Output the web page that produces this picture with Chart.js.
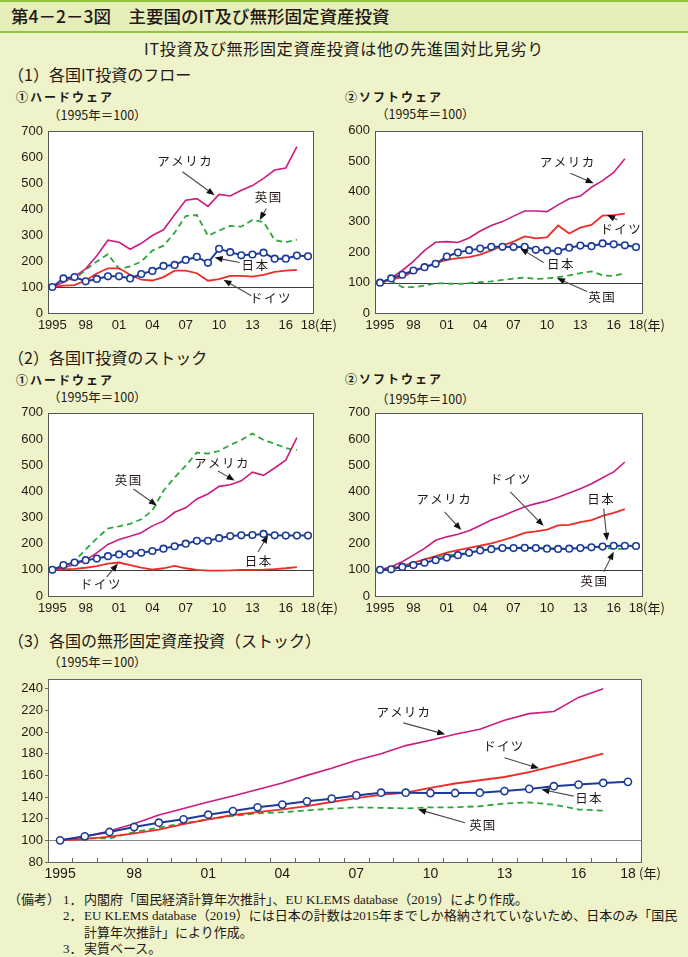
<!DOCTYPE html>
<html lang="ja">
<head>
<meta charset="utf-8">
<script src="https://cdn.jsdelivr.net/npm/chart.js@4.4.1/dist/chart.umd.min.js"></script>
<style>
html,body{margin:0;padding:0;}
body{width:688px;height:957px;background:#EEF3C9;position:relative;overflow:hidden;font-family:"Noto Sans CJK JP",sans-serif;color:#231815;}
#head{position:absolute;left:0;top:0;width:688px;height:33px;background:#E5EDB8;border-top:2px solid #8DC540;border-bottom:2px solid #8DC540;box-sizing:border-box;}
.t{position:absolute;white-space:nowrap;line-height:1;}
.sec{font-size:16px;}
.sub{font-size:12px;font-weight:bold;letter-spacing:2px;}
.unit{font-size:12.5px;}
.nen{font-size:13px;}
.foot{font-size:13px;font-family:"Liberation Serif","Noto Sans CJK JP",serif;}
.box{position:absolute;}
</style>
</head>
<body>
<div id="head"></div>
<div class="t" style="left:11px;top:7px;font-size:17.5px;font-weight:500;">第4－2－3図　主要国のIT及び無形固定資産投資</div>
<div class="t" style="left:0;width:688px;text-align:center;top:40px;font-size:16px;letter-spacing:0.7px;">IT投資及び無形固定資産投資は他の先進国対比見劣り</div>

<div class="t sec" style="left:8px;top:66px;">（1）各国IT投資のフロー</div>
<div class="t sub" style="left:16px;top:91px;">①ハードウェア</div>
<div class="t unit" style="left:48px;top:109px;">（1995年＝100）</div>
<div class="t sub" style="left:345px;top:91px;">②ソフトウェア</div>
<div class="t unit" style="left:376px;top:108px;">（1995年＝100）</div>

<div class="t sec" style="left:8px;top:349px;">（2）各国IT投資のストック</div>
<div class="t sub" style="left:16px;top:374px;">①ハードウェア</div>
<div class="t unit" style="left:48px;top:391px;">（1995年＝100）</div>
<div class="t sub" style="left:345px;top:373px;">②ソフトウェア</div>
<div class="t unit" style="left:376px;top:393px;">（1995年＝100）</div>

<div class="t sec" style="left:8px;top:632px;">（3）各国の無形固定資産投資（ストック）</div>
<div class="t unit" style="left:48px;top:656px;">（1995年＝100）</div>

<div class="box" id="b1"><canvas id="c1"></canvas></div>
<div class="box" id="b2"><canvas id="c2"></canvas></div>
<div class="box" id="b3"><canvas id="c3"></canvas></div>
<div class="box" id="b4"><canvas id="c4"></canvas></div>
<div class="box" id="b5"><canvas id="c5"></canvas></div>

<div class="t nen" style="left:315px;top:318px;">(年)</div>
<div class="t nen" style="left:643px;top:318px;">(年)</div>
<div class="t nen" style="left:316px;top:601px;">(年)</div>
<div class="t nen" style="left:643px;top:601px;">(年)</div>
<div class="t nen" style="left:639px;top:866px;">(年)</div>

<div class="t foot" style="left:8px;top:893px;">（備考）</div>
<div class="t foot" style="left:63px;top:893px;">1．</div>
<div class="t foot" style="left:84px;top:893px;">内閣府「国民経済計算年次推計」、EU KLEMS database（2019）により作成。</div>
<div class="t foot" style="left:63px;top:909px;">2．</div>
<div class="t foot" style="left:84px;top:909px;">EU KLEMS database（2019）には日本の計数は2015年までしか格納されていないため、日本のみ「国民</div>
<div class="t foot" style="left:84px;top:926px;">計算年次推計」により作成。</div>
<div class="t foot" style="left:63px;top:942px;">3．</div>
<div class="t foot" style="left:84px;top:942px;">実質ベース。</div>

<script>
// years on the x axis (Japan runs to 2018, the others to 2017)
const years = [1995,1996,1997,1998,1999,2000,2001,2002,2003,2004,2005,2006,2007,2008,2009,2010,2011,2012,2013,2014,2015,2016,2017,2018];
const tickYears = [1995,1998,2001,2004,2007,2010,2013,2016,2018];
const tickLabels = ['1995','98','01','04','07','10','13','16','18'];

// (1) IT flow, hardware
const hwFlowUS = [100,118,140,170,220,280,272,245,268,298,320,378,434,440,410,456,450,472,490,518,550,558,640];
const hwFlowUK = [100,127,130,166,198,226,170,179,198,240,259,309,373,377,297,317,335,332,358,350,281,272,282];
const hwFlowJP = [100,133,138,122,131,141,141,133,150,162,181,185,204,216,193,247,234,222,225,232,209,209,221,218];
const hwFlowDE = [100,105,107,125,152,172,172,147,128,125,138,163,163,153,124,130,143,143,140,147,158,163,166];

// (1) IT flow, software
const swFlowUS = [100,115,140,170,206,233,235,232,247,270,288,301,319,336,336,334,356,376,385,414,436,463,508];
const swFlowDE = [100,110,118,137,151,164,175,181,184,192,206,222,235,252,246,249,288,262,281,290,321,322,327];
const swFlowJP = [100,114,126,140,151,162,186,199,207,212,218,218,217,218,208,206,204,215,222,220,229,226,223,217];
const swFlowUK = [100,106,85,85,90,98,97,96,98,102,104,109,113,117,112,114,118,124,131,137,124,122,131];

// (2) IT stock, hardware
const hwStockUS = [100,108,120,137,165,197,216,228,242,268,286,320,337,371,390,419,425,440,473,461,489,519,605];
const hwStockUK = [100,114,134,178,220,258,266,276,293,327,402,453,498,548,544,554,577,596,621,596,582,565,557];
const hwStockJP = [100,118,128,137,143,152,159,161,165,172,181,190,200,211,211,221,229,232,233,237,232,231,231,231];
const hwStockDE = [100,102,104,108,114,124,128,118,108,101,106,115,106,100,97,97,98,100,100,101,103,106,110];

// (2) IT stock, software
const swStockUS = [100,112,131,156,182,213,226,236,249,269,290,306,324,341,353,363,377,394,410,429,452,474,512];
const swStockDE = [100,105,115,127,140,152,166,175,184,192,201,213,226,241,247,254,270,272,282,290,306,318,332];
const swStockJP = [100,102,111,118,127,137,147,156,165,174,179,183,183,184,183,181,180,181,183,186,189,192,192,191];
const swStockUK = [100,108,118,128,138,148,155,160,165,170,176,180,182,182,183,183,182,182,184,185,185,180,180];

// (3) intangible fixed assets, stock
const intanUS = [100,103.4,108.6,115.4,123.4,129.5,135.4,141,147,153,160,166.5,174,180,187.5,192.5,198,202.5,211,217,219,232,240];
const intanDE = [100,101.2,103.4,106.5,110,115,119.4,123.4,126,128.6,131.7,135.4,139,142,144,148.5,152.5,155.5,158.5,163,168.5,174,180];
const intanJP = [100,103.7,107.7,112.3,116.3,119.4,123.7,127,130.5,133,136,138.5,141.5,144,144,143.7,143.7,144,145.5,147.5,150,151.5,153,154];
const intanUK = [100,102,101.8,107.7,111.7,115.7,119.4,122.5,125,126,127.7,129.2,130.5,130,129.5,130.5,130.5,131.5,134,135,133,128.5,127.5];

const COL = {us:'#CC1C7E', de:'#EE2B24', jp:'#1C3C98', uk:'#2EA53A'};
const NUM_FONT = '"Liberation Sans", Arial, sans-serif';
const JP_FONT = '"Noto Sans CJK JP", sans-serif';

function pts(vals){ return vals.map((v,i)=>({x:years[i], y:v})); }

function makeSets(jp, us, de, uk, big){
  // Japan first so it is drawn on top
  return [
    {data:pts(jp), borderColor:COL.jp, borderWidth:2, pointRadius: big ? 3.6 : 3.3,
     pointBackgroundColor:'#fff', pointBorderColor:COL.jp, pointBorderWidth:1.6},
    {data:pts(us), borderColor:COL.us, borderWidth:1.6, pointRadius:0},
    {data:pts(de), borderColor:COL.de, borderWidth:1.8, pointRadius:0},
    {data:pts(uk), borderColor:COL.uk, borderWidth:1.8, borderDash:[6,4], pointRadius:0}
  ];
}

const framePlugin = {
  id:'frame',
  beforeDatasetsDraw(chart){
    const {ctx, chartArea:a, scales} = chart;
    const o = chart.options.plugins.frame;
    ctx.save();
    ctx.fillStyle = '#fff';
    ctx.fillRect(a.left, a.top, a.right-a.left, a.bottom-a.top);
    // base line at 100
    const y = Math.round(scales.y.getPixelForValue(100)) + 0.5;
    ctx.strokeStyle = o.refColor; ctx.lineWidth = 1.2;
    ctx.beginPath(); ctx.moveTo(a.left, y); ctx.lineTo(a.right, y); ctx.stroke();
    // inner year ticks on the bottom axis
    if(o.innerTicks){
      ctx.strokeStyle = o.frameColor; ctx.lineWidth = 1;
      years.slice(0,-1).forEach(yr=>{
        const x = Math.round(scales.x.getPixelForValue(yr+0.5)) + 0.5;
        ctx.beginPath(); ctx.moveTo(x, a.bottom); ctx.lineTo(x, a.bottom-4); ctx.stroke();
      });
    }
    ctx.strokeStyle = o.frameColor; ctx.lineWidth = 1;
    ctx.strokeRect(Math.round(a.left)+0.5, Math.round(a.top)+0.5, Math.round(a.right-a.left), Math.round(a.bottom-a.top));
    ctx.restore();
  }
};

const notePlugin = {
  id:'notes',
  afterDatasetsDraw(chart){
    const {ctx, scales} = chart;
    const o = chart.options.plugins.notes;
    const X = v=>scales.x.getPixelForValue(v), Y = v=>scales.y.getPixelForValue(v);
    ctx.save();
    o.items.forEach(n=>{
      ctx.font = o.size + 'px ' + JP_FONT;
      ctx.letterSpacing = o.spacing + 'px';
      ctx.fillStyle = '#231815';
      ctx.textAlign = 'center'; ctx.textBaseline = 'middle';
      ctx.fillText(n.t, X(n.x) + o.spacing/2, Y(n.y));
      const x0 = X(n.a[0]), y0 = Y(n.a[1]), x1 = X(n.a[2]), y1 = Y(n.a[3]);
      const ang = Math.atan2(y1-y0, x1-x0);
      const hl = 8, hw = 3.2;
      ctx.strokeStyle = '#4a4a4a'; ctx.lineWidth = 1.1;
      ctx.beginPath(); ctx.moveTo(x0,y0);
      ctx.lineTo(x1 - Math.cos(ang)*hl*0.8, y1 - Math.sin(ang)*hl*0.8); ctx.stroke();
      ctx.fillStyle = '#111';
      ctx.beginPath();
      ctx.moveTo(x1, y1);
      ctx.lineTo(x1 - Math.cos(ang)*hl - Math.sin(ang)*hw, y1 - Math.sin(ang)*hl + Math.cos(ang)*hw);
      ctx.lineTo(x1 - Math.cos(ang)*hl + Math.sin(ang)*hw, y1 - Math.sin(ang)*hl - Math.cos(ang)*hw);
      ctx.closePath(); ctx.fill();
    });
    ctx.restore();
  }
};

function makeChart(n, c){
  const b = document.getElementById('b'+n);
  b.style.left = c.box[0]+'px'; b.style.top = c.box[1]+'px';
  b.style.width = c.box[2]+'px'; b.style.height = c.box[3]+'px';
  const yw = c.area[0]-c.box[0], pt = c.area[1]-c.box[1];
  const pr = c.box[0]+c.box[2]-c.area[2], xh = c.box[1]+c.box[3]-c.area[3];
  const yTicks = [];
  for(let v=c.y[0]; v<=c.y[1]; v+=c.y[2]) yTicks.push(v);
  new Chart(document.getElementById('c'+n), {
    type:'line',
    data:{datasets:c.sets},
    options:{
      responsive:true, maintainAspectRatio:false, animation:false,
      layout:{padding:{top:pt, right:pr, left:0, bottom:0}},
      elements:{line:{tension:0}},
      plugins:{legend:{display:false}, tooltip:{enabled:false},
        frame:{refColor:c.refColor, frameColor:c.frameColor, innerTicks:c.innerTicks},
        notes:{items:c.notes, size:c.noteSize, spacing:c.noteSpacing}},
      scales:{
        x:{type:'linear', min:c.x[0], max:c.x[1],
          grid:{display:false, drawTicks:false}, border:{display:false},
          afterBuildTicks:s=>{ s.ticks = tickYears.map(v=>({value:v})); },
          afterFit:s=>{ s.height = xh; },
          ticks:{autoSkip:false, maxRotation:0, padding:c.xPad, color:'#231815',
            font:{family:NUM_FONT, size:c.xFont},
            callback:v=>tickLabels[tickYears.indexOf(v)]}},
        y:{min:c.y[0], max:c.yMax,
          grid:c.yTickMarks ? {display:true, drawOnChartArea:false, drawTicks:true, tickLength:3, color:c.frameColor}
                            : {display:false, drawTicks:false},
          border:{display:false},
          afterBuildTicks:s=>{ s.ticks = yTicks.map(v=>({value:v})); },
          afterFit:s=>{ s.width = yw; },
          ticks:{padding:c.yTickMarks ? 2 : 5, color:'#231815', font:{family:NUM_FONT, size:13}}}
      }
    },
    plugins:[framePlugin, notePlugin]
  });
}

const small = {refColor:'#3c3c3c', frameColor:'#555', innerTicks:false, yTickMarks:false,
  noteSize:12.5, noteSpacing:1.5, xFont:13, xPad:5};

makeChart(1, Object.assign({}, small, {
  box:[0,118,340,220], area:[48,131,313,313], x:[1994.61,2018.45], y:[0,700,100], yMax:700,
  sets:makeSets(hwFlowJP, hwFlowUS, hwFlowDE, hwFlowUK),
  notes:[
    {t:'アメリカ', x:2006.9, y:584, a:[2006.7,543,2009.6,453]},
    {t:'英国', x:2014.4, y:447, a:[2014.25,402,2013.65,358]},
    {t:'日本', x:2013.2, y:185, a:[2011.85,194,2009.6,213]},
    {t:'ドイツ', x:2014.6, y:57, a:[2012.9,66,2010.4,128]}
  ]}));

makeChart(2, Object.assign({}, small, {
  box:[340,118,348,220], area:[375,130,642,313], x:[1994.55,2018.54], y:[0,600,100], yMax:600,
  sets:makeSets(swFlowJP, swFlowUS, swFlowDE, swFlowUK),
  notes:[
    {t:'アメリカ', x:2011.8, y:495, a:[2012.1,460,2014.2,427]},
    {t:'ドイツ', x:2016.6, y:276, a:[2016.3,307,2015.4,323]},
    {t:'日本', x:2011.2, y:159, a:[2009.7,166,2007.6,213]},
    {t:'英国', x:2014.9, y:53, a:[2013.6,71,2010.9,115]}
  ]}));

makeChart(3, Object.assign({}, small, {
  box:[0,400,340,220], area:[48,412,313,596], x:[1994.61,2018.45], y:[0,700,100], yMax:700,
  sets:makeSets(hwStockJP, hwStockUS, hwStockDE, hwStockUK),
  notes:[
    {t:'英国', x:2001.8, y:443, a:[2002.3,409,2004.4,346]},
    {t:'アメリカ', x:2010.2, y:506, a:[2009.9,478,2011.4,441]},
    {t:'日本', x:2013.5, y:134, a:[2013.5,168,2014.4,232]},
    {t:'ドイツ', x:1999.3, y:44, a:[1999.9,73,2000.9,124]}
  ]}));

makeChart(4, Object.assign({}, small, {
  box:[340,400,348,220], area:[375,412,642,596], x:[1994.55,2018.54], y:[0,700,100], yMax:700,
  sets:makeSets(swStockJP, swStockUS, swStockDE, swStockUK),
  notes:[
    {t:'アメリカ', x:2000.7, y:368, a:[2000.8,321,2002.3,252]},
    {t:'ドイツ', x:2006.7, y:445, a:[2006.7,398,2009.7,268]},
    {t:'日本', x:2014.8, y:368, a:[2015.1,334,2015.4,211]},
    {t:'英国', x:2014.2, y:55, a:[2015.1,93,2016,169]}
  ]}));

makeChart(5, {
  box:[0,668,688,218], area:[48,679,641,862], x:[1994.51,2018.53], y:[80,240,20], yMax:249,
  refColor:'#8a8a8a', frameColor:'#666', innerTicks:true, yTickMarks:true,
  noteSize:12.5, noteSpacing:1.2, xFont:14, xPad:4,
  sets:makeSets(intanJP, intanUS, intanDE, intanUK, true),
  notes:[
    {t:'アメリカ', x:2008.9, y:218.5, a:[2008.9,208.5,2010.6,197.9]},
    {t:'ドイツ', x:2012.95, y:186.5, a:[2013.0,176.2,2014.4,166.5]},
    {t:'日本', x:2016.4, y:138.5, a:[2015.8,140.8,2014.5,147]},
    {t:'英国', x:2012.1, y:113.8, a:[2011.4,116.3,2009.5,128.6]}
  ]});
</script>
</body>
</html>
